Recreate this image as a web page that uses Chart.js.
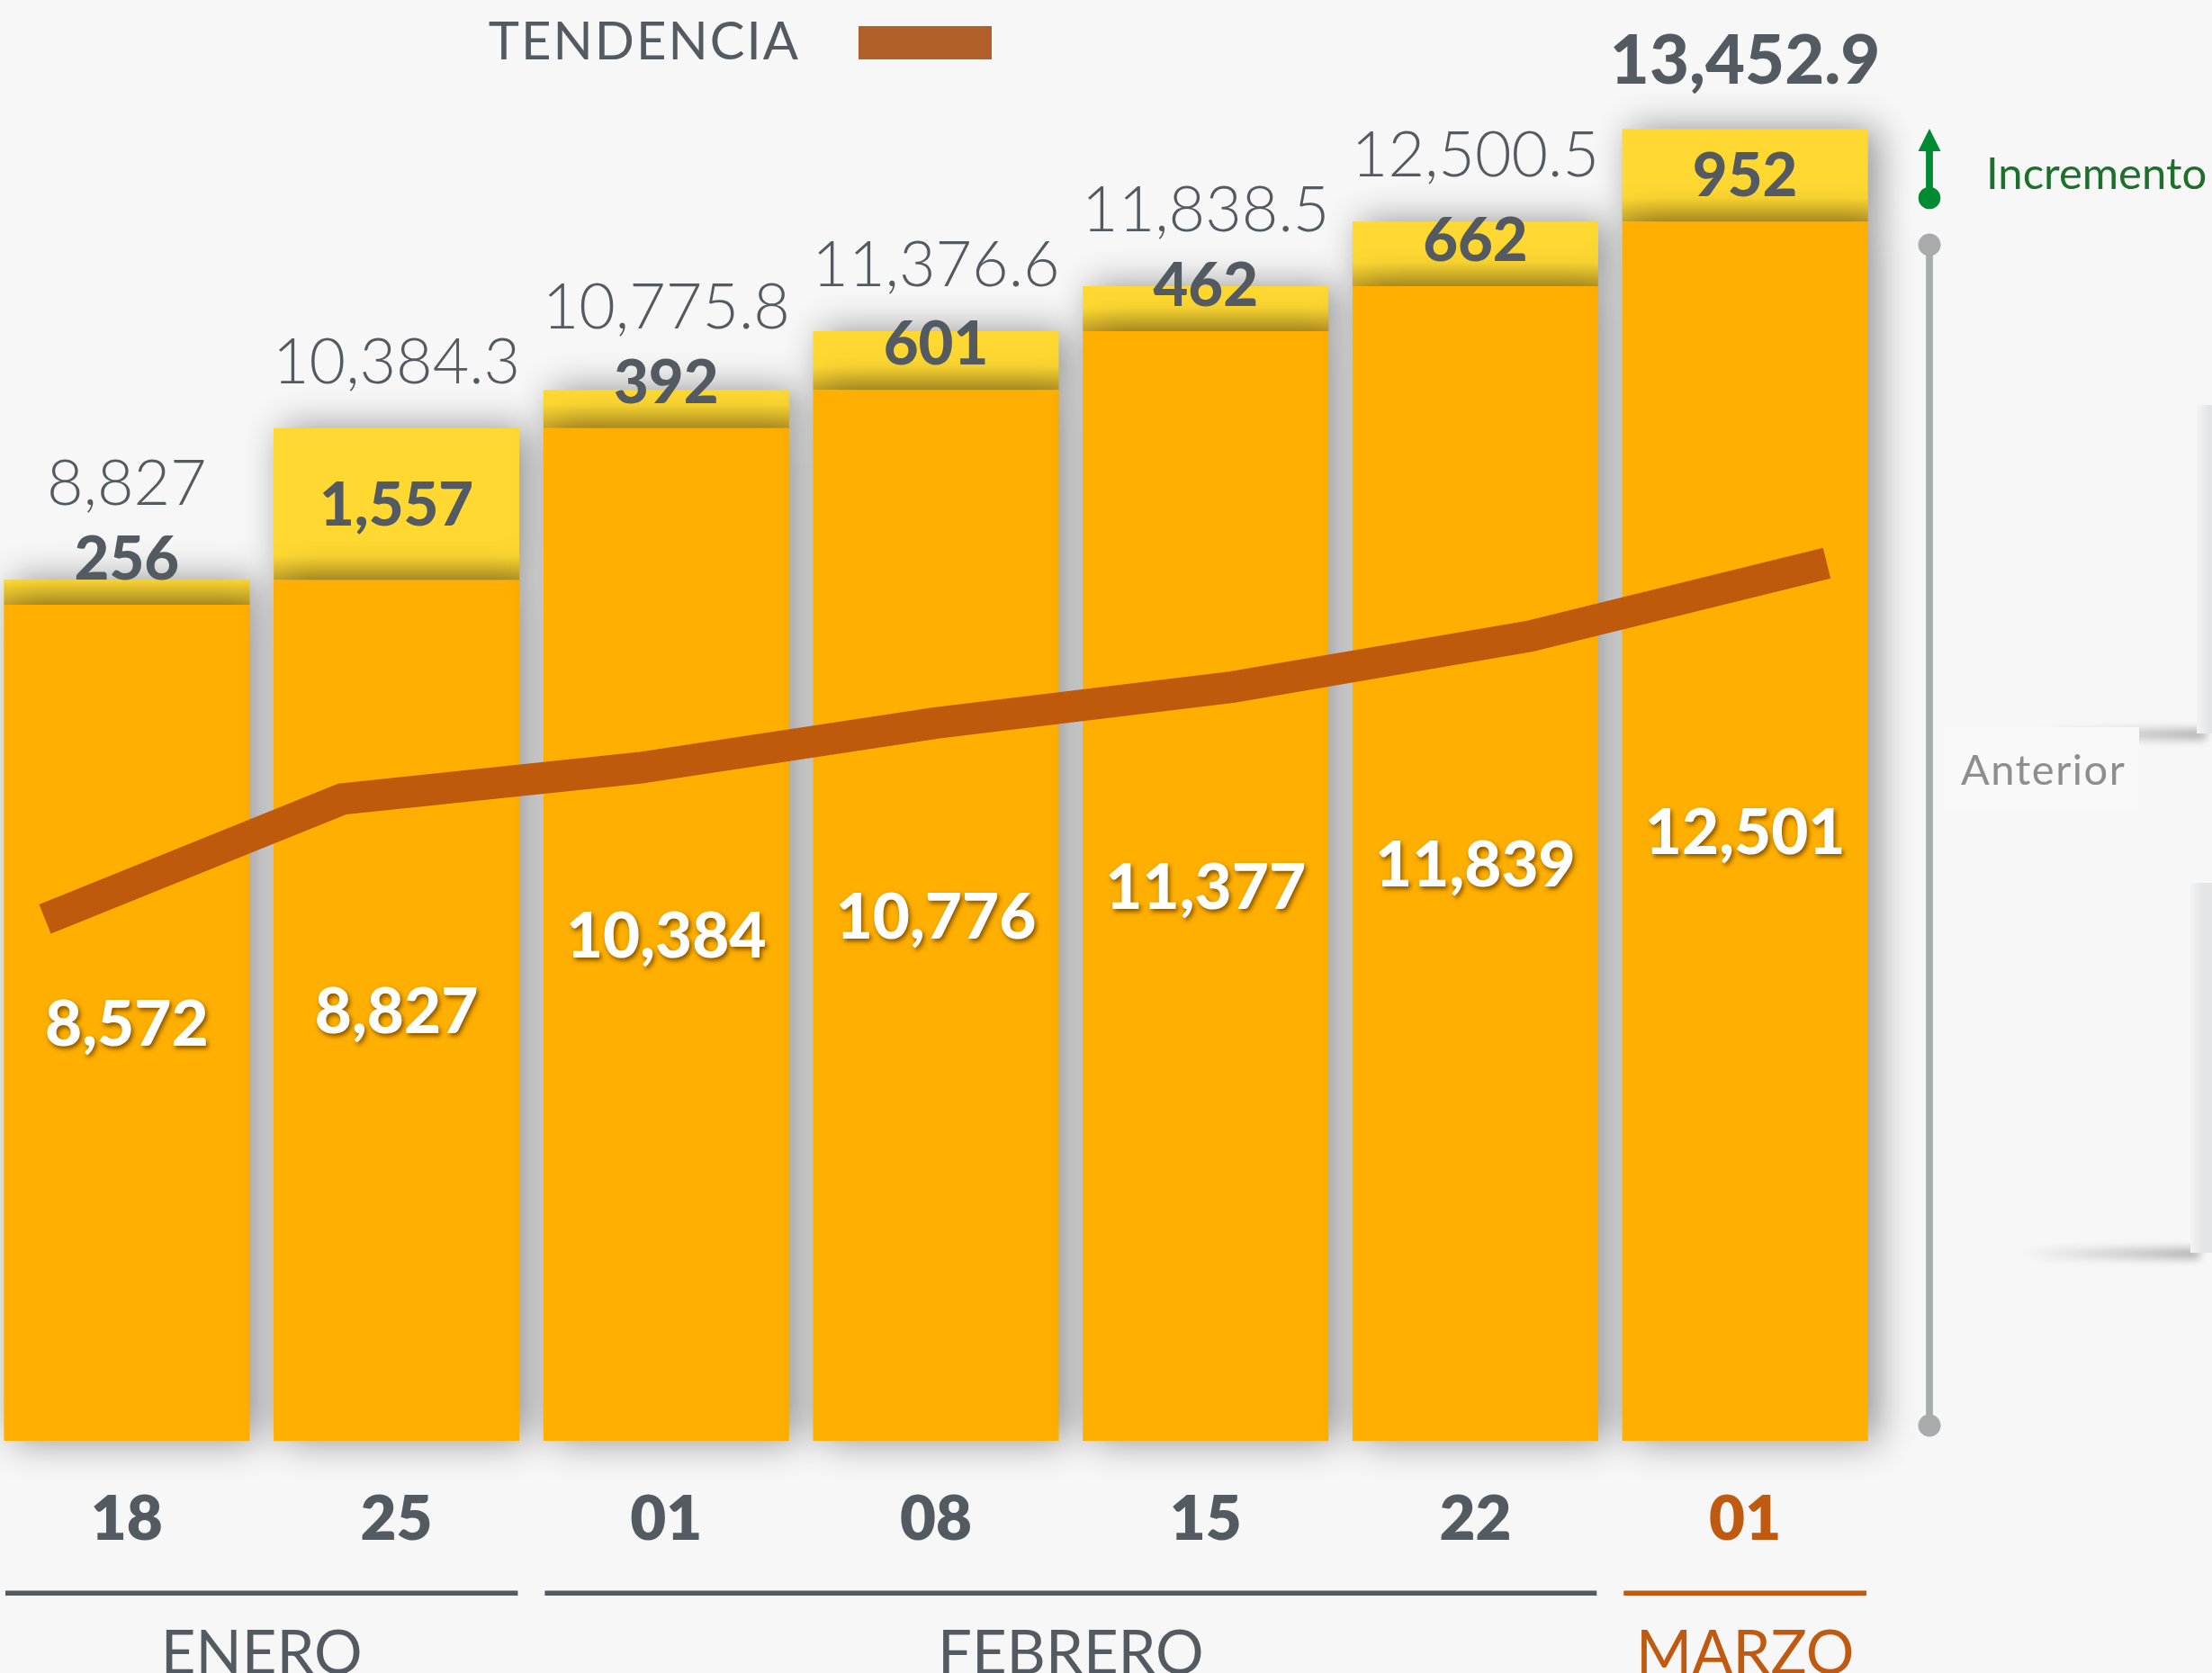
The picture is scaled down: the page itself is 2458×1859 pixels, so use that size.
<!DOCTYPE html>
<html><head><meta charset="utf-8">
<script src="https://cdn.jsdelivr.net/npm/chart.js@4.4.1/dist/chart.umd.min.js"></script>
<style>
html,body{margin:0;padding:0;background:#F7F7F7;overflow:hidden;width:2458px;height:1859px;}
#wrap{position:absolute;left:-9px;top:0;width:2467px;height:1859px;}
canvas{display:block;}
</style></head><body>
<div id="wrap"><canvas id="c" width="2467" height="1859"></canvas></div>
<script>
// ---- data ----
const days = ['18','25','01','08','15','22','01'];
const months = ['ENERO','FEBRERO','MARZO'];
const monthOfDay = [0,0,1,1,1,1,2];
const previous = [8572, 8827, 10384, 10776, 11377, 11839, 12501];
const increment = [256, 1557, 392, 601, 462, 662, 952];
const totals = [8827, 10384.3, 10775.8, 11376.6, 11838.5, 12500.5, 13452.9];
const trend = [5350, 6580, 6900, 7360, 7730, 8250, 9000];
const legendLabel = 'TENDENCIA';
const incrementLabel = 'Incremento';
const previousLabel = 'Anterior';

// ---- style ----
const C = {orange:'#FEAF00', yellow:'#FFD932', yellowDark:'#D2AE2A', dark:'#535A61', trend:'#BF590C', legend:'#B1602A',
  march:'#C05A10', green:'#008A32', greenText:'#1D6F2B', gray:'#A8ABAB', anterior:'#8E8E8E'};
const F = 'Lato, "Open Sans", sans-serif';

function fmt(v){
  let s = Number.isInteger(v) ? String(v) : v.toFixed(1);
  let parts = s.split('.');
  let a = parts[0].replace(/\B(?=(\d{3})+(?!\d))/g, ',');
  return a + (parts[1] ? '.' + parts[1] : '');
}

function yellowFill(c){
  const chart = c.chart, ys = chart.scales.y;
  if (c.type !== 'data' || !ys) return C.yellow;
  const i = c.dataIndex;
  const top = ys.getPixelForValue(previous[i] + increment[i]);
  const bot = ys.getPixelForValue(previous[i]);
  if (!isFinite(top) || !isFinite(bot) || bot - top < 1) return C.yellow;
  const g = chart.ctx.createLinearGradient(0, top, 0, bot);
  const band = Math.min(1, 26 / (bot - top));
  g.addColorStop(0, C.yellow);
  g.addColorStop(Math.max(0, 1 - band), C.yellow);
  g.addColorStop(1, C.yellowDark);
  return g;
}

const shadowPlugin = {
  id:'barShadow',
  beforeDatasetDraw(chart, args){
    if (args.meta.type !== 'bar') return;
    const ctx = chart.ctx; ctx.save();
    ctx.shadowColor = 'rgba(0,0,0,0.42)'; ctx.shadowBlur = 40; ctx.shadowOffsetX = 10; ctx.shadowOffsetY = 0;
  },
  afterDatasetDraw(chart, args){
    if (args.meta.type !== 'bar') return;
    chart.ctx.restore();
  }
};

const labelPlugin = {
  id:'valueLabels',
  afterDatasetsDraw(chart){
    const ctx = chart.ctx;
    const mPrev = chart.getDatasetMeta(0), mInc = chart.getDatasetMeta(1);
    ctx.save();
    ctx.textAlign = 'center'; ctx.textBaseline = 'alphabetic';
    const wS = 71, iS = 67, tS = 70, tB = 76;
    for (let i = 0; i < days.length; i++){
      const po = mPrev.data[i], yo = mInc.data[i];
      const x = po.x;
      ctx.save();
      ctx.font = '900 ' + wS + 'px ' + F; ctx.fillStyle = '#FFFFFF';
      ctx.shadowColor = 'rgba(110,65,0,0.85)'; ctx.shadowBlur = 5; ctx.shadowOffsetX = 2; ctx.shadowOffsetY = 3;
      ctx.fillText(fmt(previous[i]), x, (po.y + po.base)/2 + 0.716*wS/2);
      ctx.restore();
      const incCenter = Math.min((yo.y + yo.base)/2, yo.base - 52);
      ctx.font = '900 ' + iS + 'px ' + F; ctx.fillStyle = C.dark;
      ctx.fillText(fmt(increment[i]), x, incCenter + 0.716*iS/2);
      const incTop = incCenter - 0.716*iS/2;
      const base = Math.min(yo.y - 50, incTop - 35);
      const last = i === days.length - 1;
      ctx.font = (last ? '900 ' + tB : '300 ' + tS) + 'px ' + F;
      ctx.fillText(fmt(totals[i]), x, base);
    }
    ctx.restore();
  }
};

const decoPlugin = {
  id:'deco',
  afterDraw(chart){
    const ctx = chart.ctx, xs = chart.scales.x;
    ctx.save();
    ctx.font = '400 58px ' + F; ctx.fillStyle = C.dark; ctx.textAlign = 'right'; ctx.textBaseline = 'alphabetic';
    ctx.letterSpacing = '2px';
    ctx.fillText(legendLabel, 898, 66);
    ctx.letterSpacing = '0px';
    ctx.fillStyle = C.legend; ctx.fillRect(963, 29, 148, 37);

    const half = xs.width / days.length / 2;
    months.forEach((m, mi) => {
      const idx = monthOfDay.map((v,i)=>v===mi?i:-1).filter(v=>v>=0);
      const x0 = xs.getPixelForValue(idx[0]) - half + 15;
      const x1 = xs.getPixelForValue(idx[idx.length-1]) + half - 15;
      const col = mi === months.length - 1 ? C.march : C.dark;
      ctx.fillStyle = col; ctx.fillRect(x0, 1767.5, x1 - x0, 5.5);
      ctx.font = '400 67px ' + F; ctx.textAlign = 'center';
      ctx.fillText(m, (x0 + x1)/2, 1860);
    });

    function panel(x, y, w, h){
      ctx.save(); ctx.filter = 'blur(5px)';
      const g = ctx.createLinearGradient(x - 190, 0, x, 0);
      g.addColorStop(0,'rgba(0,0,0,0)'); g.addColorStop(1,'rgba(0,0,0,0.28)');
      ctx.fillStyle = g; ctx.fillRect(x - 190, y + h - 5, 200, 12);
      ctx.restore();
      const g2 = ctx.createLinearGradient(x, 0, x + 14, 0);
      g2.addColorStop(0,'#F3F3F3'); g2.addColorStop(1,'#E4E5E7');
      ctx.fillStyle = g2; ctx.fillRect(x, y, w, h);
    }
    panel(2450, 450, 30, 365);
    panel(2443, 981, 40, 411);
    ctx.fillStyle = '#F9F9F9'; ctx.fillRect(2170, 808, 216, 90);

    const gx = 2153;
    ctx.fillStyle = C.gray;
    ctx.fillRect(gx - 3.9, 272, 7.8, 1584 - 272);
    ctx.beginPath(); ctx.arc(gx, 272, 12.5, 0, Math.PI*2); ctx.fill();
    ctx.beginPath(); ctx.arc(gx, 1584, 12.5, 0, Math.PI*2); ctx.fill();
    ctx.fillStyle = C.green;
    ctx.fillRect(gx - 3.9, 166, 7.8, 220 - 166);
    ctx.beginPath(); ctx.arc(gx, 220, 12.3, 0, Math.PI*2); ctx.fill();
    ctx.beginPath(); ctx.moveTo(gx - 12.5, 168); ctx.lineTo(gx + 12.5, 168); ctx.lineTo(gx, 143); ctx.closePath(); ctx.fill();

    ctx.textAlign = 'left';
    ctx.font = '400 49px ' + F; ctx.fillStyle = C.greenText;
    ctx.fillText(incrementLabel, 2216, 210);
    ctx.font = '400 47px ' + F; ctx.fillStyle = C.anterior; ctx.letterSpacing = '1.5px';
    ctx.fillText(previousLabel, 2188, 872);
    ctx.restore();
  }
};

new Chart(document.getElementById('c'), {
  type:'bar',
  data:{
    labels: days,
    datasets:[
      {type:'bar', label: previousLabel, data: previous, backgroundColor: C.orange, order:1, stack:'s', grouped:false,
       barPercentage:0.911, categoryPercentage:1, clip:false, xAxisID:'x', yAxisID:'y'},
      {type:'bar', label: incrementLabel, data: increment, backgroundColor: yellowFill, order:2, stack:'s', grouped:false,
       barPercentage:0.911, categoryPercentage:1, clip:false, xAxisID:'x', yAxisID:'y'},
      {type:'line', label: legendLabel, data: trend.map((v,i)=>({x:i, y:v})), xAxisID:'x2', yAxisID:'y',
       borderColor: C.trend, backgroundColor: C.trend, borderWidth:35, pointRadius:0, pointHoverRadius:0,
       tension:0, borderCapStyle:'butt', borderJoinStyle:'miter', fill:false, order:0}
    ]
  },
  options:{
    responsive:false, animation:false, devicePixelRatio:1,
    layout:{padding:{left:0, right:369, top:0, bottom:83}},
    plugins:{legend:{display:false}, tooltip:{enabled:false}},
    scales:{
      x:{stacked:true, offset:true, grid:{display:false, drawTicks:false}, border:{display:false},
         ticks:{font:{family:F, size:69, weight:'800', lineHeight:1}, padding:53, maxRotation:0, autoSkip:false,
                color:(c)=> c.index === days.length - 1 ? C.march : C.dark}},
      x2:{type:'linear', display:false, offset:false, grid:{offset:false}, bounds:'data', min:-0.1788, max:6.1788},
      y:{stacked:true, display:false, min:0, max:14774}
    }
  },
  plugins:[shadowPlugin, labelPlugin, decoPlugin]
});
</script>
</body></html>
